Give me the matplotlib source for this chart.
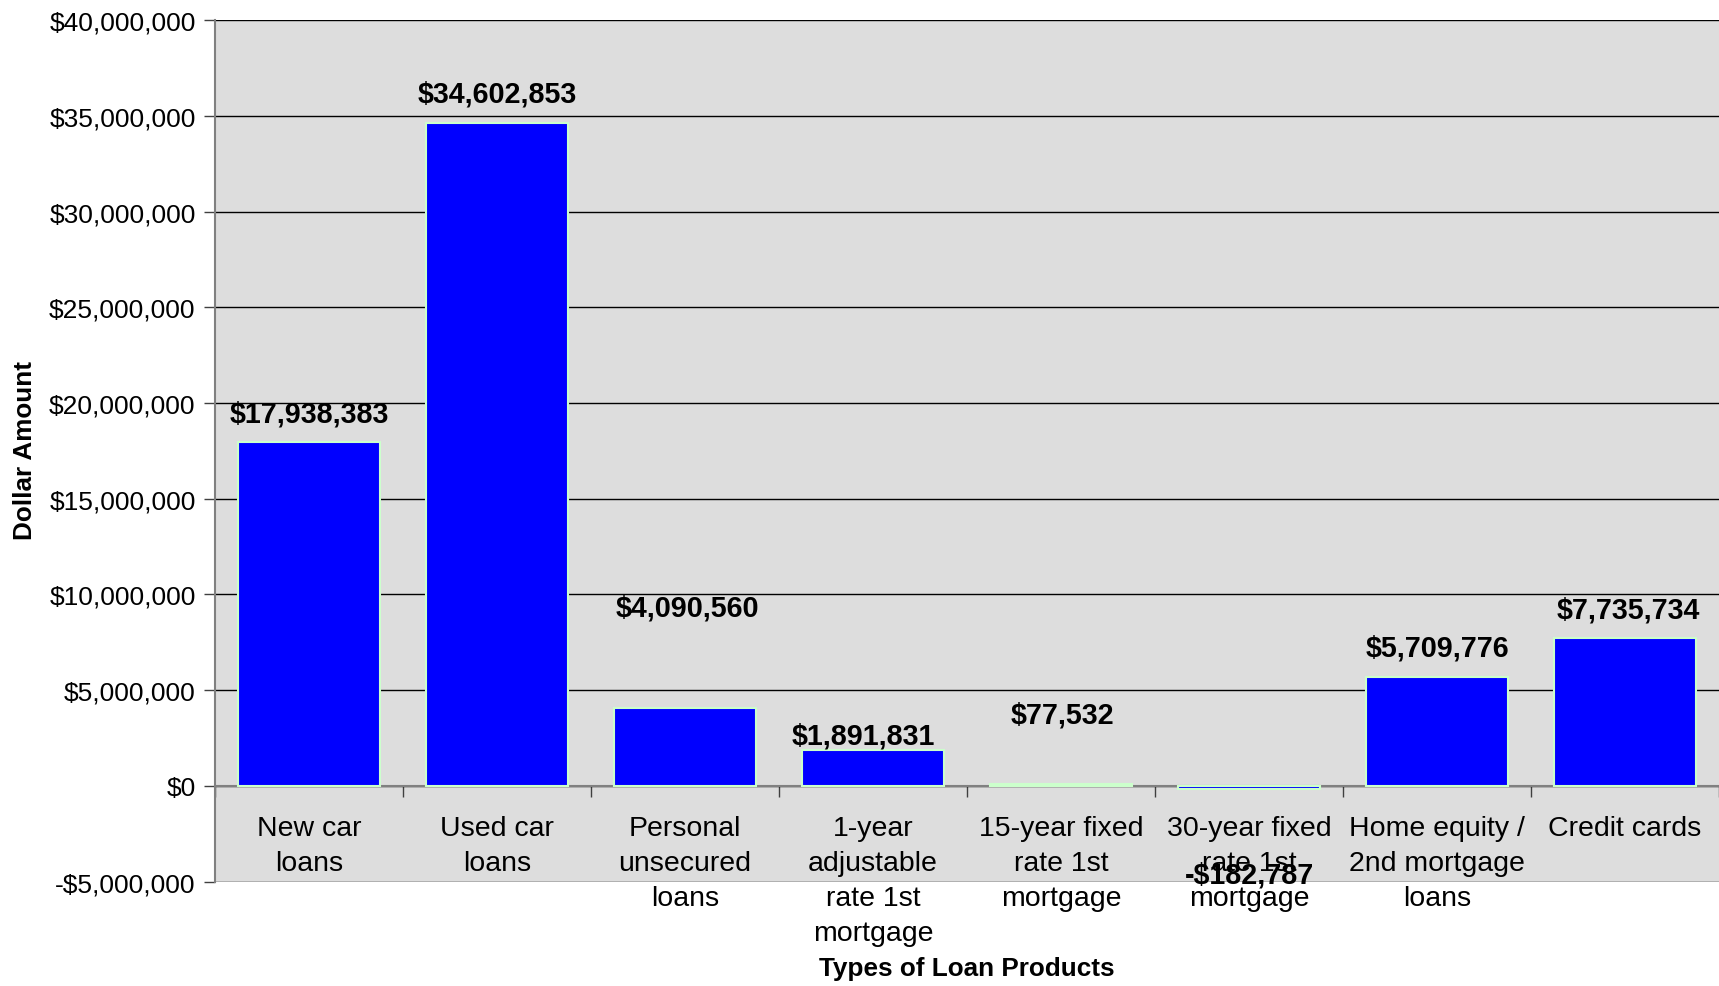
import matplotlib.pyplot as plt
from matplotlib.ticker import FuncFormatter
import numpy as np

# Loan product amounts
categories = ['New car\nloans', 'Used car\nloans', 'Personal\nunsecured\nloans',
              '1-year\nadjustable\nrate 1st\nmortgage', '15-year fixed\nrate 1st\nmortgage',
              '30-year fixed\nrate 1st\nmortgage', 'Home equity /\n2nd mortgage\nloans',
              'Credit cards']
amounts = [17938383, 34602853, 4090560, 1891831, 77532, -182787, 5709776, 7735734]

# where the value labels sit
label_y = [19.47e6, 36.14e6, 9.34e6, 2.63e6, 3.72e6, -4.64e6, 7.22e6, 9.22e6]
label_dx = [0, 0, 0.01, -0.05, 0.01, 0, 0, 0.02]

plt.rcParams['font.family'] = ['Liberation Sans', 'DejaVu Sans']

fig = plt.figure(figsize=(17.19, 9.87), dpi=100)
ax = fig.add_axes([0.1251, 0.1057, 0.8749, 0.8730])
ax.set_facecolor('#DDDDDD')

x = np.arange(len(categories))
ax.bar(x, amounts, width=0.755, color='#0000FF', edgecolor='#CCFFCC', linewidth=1.5, zorder=3)

for xi, dx, ly, v in zip(x, label_dx, label_y, amounts):
    txt = f'${v:,.0f}' if v >= 0 else f'-${-v:,.0f}'
    ax.text(xi + dx, ly, txt, ha='center', va='center', fontsize=20.7,
            fontweight='bold', zorder=5)

ax.set_xlim(-0.5, len(categories) - 0.5)
ax.set_ylim(-5e6, 40e6)
ax.set_yticks(np.arange(-5e6, 40e6 + 1, 5e6))
ax.yaxis.set_major_formatter(FuncFormatter(
    lambda v, p: f'${v:,.0f}' if v >= 0 else f'-${-v:,.0f}'))
ax.grid(axis='y', color='black', linewidth=1, zorder=1)
ax.set_axisbelow(True)

# x-axis sits on zero, ticks between categories, labels at centres
ax.spines['bottom'].set_position(('data', 0))
ax.spines['bottom'].set_color('#808080')
ax.spines['bottom'].set_linewidth(1.5)
ax.spines['left'].set_color('#808080')
ax.spines['left'].set_linewidth(1.5)
ax.spines['top'].set_visible(False)
ax.spines['right'].set_visible(False)
ax.set_xticks(np.arange(len(categories) + 1) - 0.5)
ax.set_xticklabels([])
ax.set_xticks(x, minor=True)
ax.set_xticklabels(categories, minor=True, fontsize=20.5, linespacing=1.45)
ax.tick_params(axis='x', which='major', length=8, color='#404040', width=1)
ax.tick_params(axis='x', which='minor', length=0, pad=21)
ax.tick_params(axis='y', length=8, color='#404040', width=1, labelsize=19, pad=6)

fig.text(0.5627, 0.018, 'Types of Loan Products', ha='center', va='center',
         fontsize=18.8, fontweight='bold')
fig.text(0.0145, 0.544, 'Dollar Amount', ha='center', va='center', rotation=90,
         fontsize=18.8, fontweight='bold')

fig.savefig('out.png', dpi=100)
